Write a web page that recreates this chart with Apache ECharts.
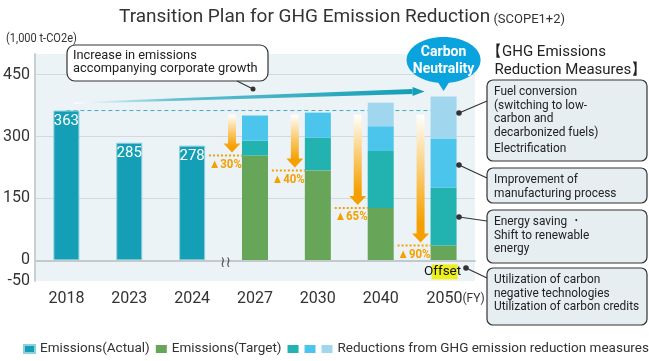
<!DOCTYPE html>
<html><head><meta charset="utf-8">
<script src="https://cdn.jsdelivr.net/npm/echarts@6/dist/echarts.min.js"></script>
<style>html,body{margin:0;padding:0;background:#fff}#c{width:649px;height:361px}</style>
</head><body><div id="c"></div>
<script>
// ---- data ----
const years = ['2018','2023','2024','2027','2030','2040','2050'];
const actual = [363, 285, 278, '-', '-', '-', '-'];
const target = ['-', '-', '-', 254, 218, 127, 36];
const redEnergy = ['-', '-', '-', 36, 79, 138, 140];
const redProcess = ['-', '-', '-', 61, 61, 60, 119];
const redFuel = ['-', '-', '-', '-', '-', 57, 102];
const reductionPct = ['', '', '', '▲30%', '▲40%', '▲65%', '▲90%'];
const baseYearValue = 363;
const yTickLabels = [-50, 0, 150, 300, 450];

const F = "Roboto, 'Noto Sans', sans-serif";
const C = {
  actual: '#149FB6', target: '#67A558', energy: '#22B2AF', process: '#4CC5EC', fuel: '#A0D7EE',
  orange: '#F5A000', bubble: '#0BA3DD', text: '#333333'
};

const chart = echarts.init(document.getElementById('c'), null, {renderer: 'canvas'});

const option = {
  animation: false,
  textStyle: {fontFamily: F},
  title: {
    left: 114, top: 3,
    text: '{a|Transition Plan for GHG Emission Reduction}{b| (SCOPE1+2)}',
    textStyle: {fontWeight: 'normal', rich: {
      a: {fontFamily: F, fontSize: 19, fontWeight: 'normal', color: '#333', verticalAlign: 'bottom'},
      b: {fontFamily: F, fontSize: 13, fontWeight: 'normal', color: '#333', verticalAlign: 'bottom', padding: [0,0,1,0]}
    }}
  },
  grid: {left: 32, right: 174, top: 54, bottom: 80, show: true, backgroundColor: '#EBF3F7', borderWidth: 0},
  legend: {
    left: 18, top: 337, width: 640, itemWidth: 11, itemHeight: 8, itemGap: 6,
    icon: 'rect', selectedMode: false,
    textStyle: {fontFamily: F, fontSize: 13.5, color: '#333'},
    data: ['Emissions(Actual)', 'Emissions(Target)', 'Energy saving', 'Process', 'Reductions from GHG emission reduction measures'],
    formatter: function (n) { return (n === 'Energy saving' || n === 'Process') ? '' : n; }
  },
  xAxis: {
    type: 'category', data: years,
    axisTick: {show: false},
    axisLine: {lineStyle: {color: '#c9d0d4', width: 2}},
    axisLabel: {
      interval: 0, margin: 10, color: C.text, fontSize: 16, fontFamily: F,
      formatter: function (v) { return v === '2050' ? '{y|2050}{fy|(FY)}' : v; },
      rich: {y: {fontSize: 16, fontFamily: F, color: C.text, padding: [0,0,0,24]}, fy: {fontSize: 12, fontFamily: F, color: C.text}}
    }
  },
  yAxis: {
    type: 'value', min: -50, max: 500, interval: 50,
    axisLine: {show: true, lineStyle: {color: '#c9d0d4', width: 2}},
    axisTick: {show: false},
    axisLabel: {
      color: C.text, fontSize: 16, fontFamily: F, margin: 5,
      formatter: function (v) { return yTickLabels.indexOf(v) >= 0 ? String(v) : ''; }
    },
    splitLine: {show: true, showMinLine: true, lineStyle: {color: ['rgba(0,0,0,0)', '#d3d9dc', 'rgba(0,0,0,0)'], width: 1}}
  },
  series: [
    {
      name: 'baseline', type: 'line', z: 1, symbol: 'none', silent: true,
      data: [[years[0], baseYearValue], [years[6], baseYearValue]],
      lineStyle: {color: '#49A9C2', width: 1, type: [4, 3]}
    },
    {
      name: 'Emissions(Actual)', type: 'bar', stack: 's', barWidth: 26, data: actual,
      itemStyle: {color: C.actual, borderColor: '#8fd0dc', borderWidth: 1},
      label: {show: true, position: 'insideTop', distance: 3, color: '#fff', fontSize: 15, fontFamily: F},
      markLine: {silent: true, symbol: 'none', label: {show: false}, data: [{yAxis: 0}],
        lineStyle: {color: '#c3cace', width: 2, type: 'solid'}}
    },
    {name: 'Emissions(Target)', type: 'bar', stack: 's', barWidth: 26, data: target, itemStyle: {color: C.target}},
    {name: 'Energy saving', type: 'bar', stack: 's', barWidth: 26, data: redEnergy, itemStyle: {color: C.energy}},
    {name: 'Process', type: 'bar', stack: 's', barWidth: 26, data: redProcess, itemStyle: {color: C.process}},
    {name: 'Reductions from GHG emission reduction measures', type: 'bar', stack: 's', barWidth: 26, data: redFuel, itemStyle: {color: C.fuel}}
  ]
};
chart.setOption(option);

function px(i, v) { return chart.convertToPixel({xAxisIndex: 0, yAxisIndex: 0}, [years[i], v]); }

const g = [];
// unit label
g.push({type: 'text', x: 6, y: 33, scaleX: 0.92, style: {text: '(1,000 t-CO2e)', font: '12px ' + F, fill: '#333'}});

// rising teal arrow
(function () {
  const p0 = px(0, 382), p1 = px(6, 409);
  const x0 = p0[0] + 8, y0 = p0[1], x1 = p1[0] - 31, y1 = p1[1];
  g.push({type: 'polygon', z: 5, shape: {points: [[x0, y0 - 0.5], [x1, y1 - 2.5], [x1, y1 + 2.5], [x0, y0 + 1]]},
    style: {fill: new echarts.graphic.LinearGradient(0, 0, 1, 0, [
      {offset: 0, color: 'rgba(255,255,255,0.9)'}, {offset: 0.3, color: '#62bfd0'}, {offset: 1, color: '#149FB6'}])}});
  g.push({type: 'polygon', z: 5, shape: {points: [[x1, y1 - 4.5], [x1 + 12, y1], [x1, y1 + 4.5]]}, style: {fill: '#149FB6'}});
})();

// callout box
g.push({type: 'rect', z: 6, shape: {x: 67, y: 45, width: 201, height: 36, r: 8}, style: {fill: '#fff', stroke: '#333', lineWidth: 1.2}});
g.push({type: 'text', z: 7, x: 73, y: 49, scaleX: 0.95, style: {text: 'Increase in emissions\naccompanying corporate growth', font: '13.5px ' + F, fill: '#222', lineHeight: 13}});
g.push({type: 'line', z: 6, shape: {x1: 237, y1: 81, x2: 253, y2: 89}, style: {stroke: '#333', lineWidth: 1.2}});
g.push({type: 'circle', z: 6, shape: {cx: 253, cy: 89, r: 2.5}, style: {fill: '#333'}});

// carbon neutrality bubble
(function () {
  const p = px(6, 0);
  const cx = p[0];
  g.push({type: 'ellipse', z: 6, shape: {cx: cx, cy: 60, rx: 37, ry: 23}, style: {fill: C.bubble}});
  g.push({type: 'polygon', z: 6, shape: {points: [[cx - 7, 80], [cx + 7, 80], [cx, 91]]}, style: {fill: C.bubble}});
  g.push({type: 'text', z: 7, x: cx, y: 61, style: {text: 'Carbon\nNeutrality', font: 'bold 14px ' + F, fill: '#fff', align: 'center', verticalAlign: 'middle', lineHeight: 17}});
})();

// orange reduction arrows
for (let i = 0; i < years.length; i++) {
  if (!reductionPct[i]) continue;
  const c = px(i, target[i]);
  const cx = c[0], ty = c[1];
  const ax = cx - 23;
  const top = px(i, 353)[1];
  const tip = ty - 3;
  g.push({type: 'polygon', z: 5, shape: {points: [[ax - 4, top], [ax + 4, top], [ax + 4, tip - 9], [ax + 8.5, tip - 9], [ax, tip], [ax - 8.5, tip - 9], [ax - 4, tip - 9]]},
    style: {fill: new echarts.graphic.LinearGradient(0, 0, 0, 1, [
      {offset: 0, color: '#ffffff'}, {offset: 0.45, color: '#FBCB6E'}, {offset: 0.85, color: C.orange}, {offset: 1, color: C.orange}])}});
  g.push({type: 'line', z: 5, shape: {x1: cx - 46, y1: ty, x2: cx - 13, y2: ty}, style: {stroke: C.orange, lineWidth: 2, lineDash: [2, 2]}});
  g.push({type: 'text', z: 5, x: cx - 46, y: ty + 9, scaleX: 0.88, style: {text: reductionPct[i], font: 'bold 13px ' + F, fill: C.orange, verticalAlign: 'middle'}});
}

// axis break symbol
(function () {
  const a = px(2, 0), b = px(3, 0);
  g.push({type: 'text', z: 6, x: (a[0] + b[0]) / 2 + 2, y: a[1] + 3, style: {text: '≀≀', font: '15px DejaVu Sans', fill: '#555', align: 'center', verticalAlign: 'middle'}});
})();

// offset label
(function () {
  const p = px(6, 0);
  const cx = p[0];
  g.push({type: 'rect', z: 5, shape: {x: cx - 12, y: p[1] + 4, width: 26, height: 15}, style: {fill: '#EEF01E'}});
  g.push({type: 'text', z: 6, x: cx - 1, y: p[1] + 11, style: {text: 'Offset', font: '13.5px ' + F, fill: '#111', align: 'center', verticalAlign: 'middle'}});
})();

// right panel
g.push({type: 'text', left: 487, top: 43, style: {text: '【GHG Emissions\n  Reduction Measures】', font: '15px ' + F, fill: '#222', lineHeight: 18}});
const boxes = [
  {y: 80, h: 81, t: 'Fuel conversion\n(switching to low-\ncarbon and\ndecarbonized fuels)\n{g|}\nElectrification', dot: [459, 113], ly: 101},
  {y: 168, h: 35, t: 'Improvement of\nmanufacturing process', dot: [459, 165], ly: 178},
  {y: 210, h: 53, t: 'Energy saving ・\nShift to renewable\nenergy', dot: [459, 217], ly: 221},
  {y: 268, h: 57, t: 'Utilization of carbon\nnegative technologies\nUtilization of carbon credits', dot: [466, 268], ly: 278}
];
boxes.forEach(function (b) {
  g.push({type: 'rect', z: 6, shape: {x: 487, y: b.y, width: 160, height: b.h, r: 6}, style: {fill: '#E6EEF2', stroke: '#333', lineWidth: 1.2}});
  g.push({type: 'text', z: 7, x: 494, y: b.y + 5, scaleX: 0.88, style: {text: b.t, font: '13.5px ' + F, fill: '#222', lineHeight: 13.5, rich: {g: {height: 3, lineHeight: 3}}}});
  g.push({type: 'line', z: 6, shape: {x1: b.dot[0], y1: b.dot[1], x2: 487, y2: b.ly}, style: {stroke: '#333', lineWidth: 1.2}});
  g.push({type: 'circle', z: 6, shape: {cx: b.dot[0], cy: b.dot[1], r: 2.8}, style: {fill: '#333'}});
});

chart.setOption({graphic: {elements: g}});
</script>
</body></html>
